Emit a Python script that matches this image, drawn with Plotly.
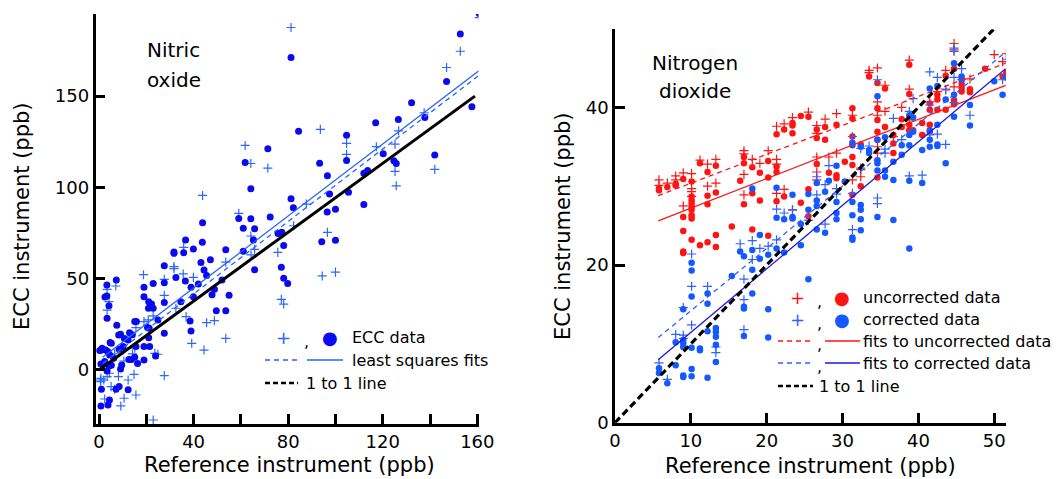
import plotly.graph_objects as go

# ---------------- Nitric oxide (left panel) ----------------
no_dot_x = [160.8, 152.8, 81.2, 147.0, 84.4, 132.2, 117.0, 126.6, 137.8, 157.7, 104.7, 71.4, 61.8, 104.7, 93.3,
            120.2, 124.7, 125.7, 142.0, 112.0, 113.6, 96.6, 64.2, 97.5, 112.0, 105.5, 81.2, 82.2, 96.5, 100.0,
            59.1, 64.2, 72.4, 61.0, 65.8, 61.0, 65.3, 53.6, 43.8, 43.7, 39.9, 36.6, 43.1, 47.1, 31.7, 31.7,
            35.8, 75.7, 77.3, 78.1, 94.2, 100.0, 77.1, 78.1, 79.8, 65.8, 27.6, 32.5, 36.5, 45.5, 44.4, 42.0,
            38.9, 39.9, 47.8, 48.8, 52.0, 19.0, 22.9, 27.6, 27.6, 19.0, 21.0, 22.2, 20.9, 22.9, 34.6, 38.5,
            38.9, 55.0, 49.6, 53.6, 7.5, 7.3, 3.3, 3.3, 2.5, 4.2, 3.4, 15.1, 15.8, 24.9, 20.5, 21.2, 27.6,
            21.0, 12.9, 14.1, 12.3, 10.7, 8.3, 9.1, 5.2, 4.7, 1.3, 1.0, 2.8, 0.3, 10.2, 8.5, 3.8, 19.0, 21.4,
            15.6, 15.1, 13.7, 12.6, 16.3, 19.0, 23.9, 0.8, 4.2, 5.2, 9.6, 3.4, 9.1, 8.5, 12.3, 1.0, 4.4, 3.8,
            0.8, 7.2, 4.5, 2.4, 6.2]
no_dot_y = [195.3, 184.0, 171.2, 158.0, 130.8, 146.4, 135.4, 137.2, 138.3, 144.2, 128.6, 121.2, 113.7, 114.8, 113.3,
            118.4, 114.6, 113.1, 117.7, 107.8, 109.3, 106.4, 99.3, 96.4, 90.7, 97.4, 93.8, 88.9, 86.5, 88.0,
            83.0, 82.8, 83.8, 77.6, 77.4, 65.1, 71.2, 65.9, 80.7, 69.9, 66.2, 71.2, 58.9, 60.4, 63.9, 64.6,
            64.2, 74.8, 75.4, 68.2, 70.3, 71.0, 56.2, 50.2, 47.3, 54.9, 57.1, 50.7, 48.7, 51.8, 54.7, 47.1,
            45.3, 40.1, 41.2, 44.2, 49.3, 45.3, 47.3, 47.8, 37.0, 40.1, 37.4, 36.1, 33.8, 33.8, 37.4, 26.8,
            21.4, 40.9, 32.5, 32.5, 24.5, 49.3, 46.5, 40.5, 40.0, 35.2, 28.3, 26.5, 26.5, 27.4, 23.2, 22.8, 20.1,
            17.7, 20.4, 19.3, 16.4, 17.3, 19.2, 19.5, 14.6, 15.0, 11.9, 11.0, 11.0, 10.6, 12.8, 11.3, 10.0, 12.8, 12.8,
            12.8, 6.9, 5.8, 5.8, 3.6, 5.5, 7.7, 3.3, 2.2, 2.6, 2.7, -0.5, 0.5, -9.1, -10.9, -10.6, -16.4, -19.2,
            -19.7, -10.6, 8.2, 4.6, 6.4]

no_cross_x = [81.2, 160.8, 152.8, 147.0, 93.6, 61.8, 64.2, 71.4, 104.7, 104.7, 125.2, 125.2, 125.7, 142.0, 117.3,
              137.5, 126.7, 43.8, 59.1, 64.2, 65.8, 64.3, 75.6, 82.3, 87.7, 96.6, 94.4, 100.0, 77.1, 78.1,
              53.6, 53.6, 44.4, 45.5, 48.8, 39.2, 39.9, 35.6, 35.8, 31.7, 31.7, 27.6, 27.6, 18.8, 36.8, 32.5,
              22.9, 19.0, 24.9, 22.9, 27.6, 15.6, 10.6, 12.3, 14.8, 8.2, 5.1, 6.6, 9.2, 2.4, 0.6, 0.8, 0.7,
              2.0, 3.4, 4.4, 6.6, 7.1, 3.4, 3.4, 4.2, 10.5, 14.1, 15.1, 15.6, 20.8, 10.2, 23.6]
no_cross_y = [187.6, 193.0, 174.6, 165.7, 131.8, 123.0, 113.1, 110.6, 124.1, 118.1, 123.7, 108.8, 100.9, 109.9, 122.3,
              140.9, 131.0, 95.6, 85.8, 73.4, 66.1, 63.0, 64.4, 79.0, 90.9, 75.4, 51.5, 53.6, 38.7, 36.1,
              59.1, 17.3, 10.9, 25.9, 27.0, 14.6, 50.7, 52.6, 67.2, 56.6, 55.5, 49.6, 40.9, 52.2, 29.2, 33.8,
              29.6, 26.5, 8.6, -27.4, -3.1, -13.7, -15.5, -5.5, -2.4, -3.6, -9.1, -10.6, -19.7, -15.9, -5.5, -4.6, -6.4,
              -5.5, -3.6, -1.8, 8.8, 46.0, 44.2, 32.8, 37.4, 4.9, 8.8, 11.9, 23.2, 27.4, 11.0, 9.1]

no_fit_x = [1.5, 160.8]
no_fit_solid_y = [7.0, 164.0]
no_fit_dash_y = [3.5, 161.5]
no_one_x = [0.0, 159.0]
no_one_y = [0.0, 150.0]

# ---------------- Nitrogen dioxide (right panel) ----------------
un_dot_x = [5.8, 5.8, 6.9, 8.0, 8.0, 9.0, 9.0, 9.0, 9.0, 9.0, 10.1, 10.1, 10.1, 10.1, 10.1, 10.1, 10.1, 10.1, 10.1,
            11.2, 11.2, 12.2, 12.2, 12.2, 12.2, 13.3, 13.3, 13.3, 13.3, 15.4, 16.5, 17.0, 17.0, 17.0, 18.1, 18.1,
            18.1, 19.1, 19.1, 20.2, 20.2, 20.2, 21.3, 21.3, 21.3, 21.3, 22.3, 22.3, 23.4, 23.4, 23.4, 24.5, 24.5,
            25.5, 25.5, 25.5, 26.6, 26.6, 26.6, 27.7, 27.7, 28.2, 29.2, 29.2, 29.2, 30.3, 31.3, 31.3, 31.3, 31.3,
            31.3, 31.3, 32.4, 32.4, 33.5, 34.6, 34.6, 34.6, 34.6, 34.6, 34.6, 35.6, 35.6, 36.7, 36.7, 36.7, 37.8,
            37.8, 38.8, 38.8, 38.8, 38.8, 39.3, 40.5, 40.5, 41.5, 41.5, 41.5, 41.5, 42.5, 42.5, 42.5, 43.6, 43.6,
            44.7, 44.7, 44.7, 45.7, 45.7, 45.7, 46.8, 46.8, 48.8, 51.1, 51.6]
un_dot_y = [29.7, 29.5, 29.9, 30.3, 30.1, 30.9, 26.1, 24.3, 21.7, 21.5, 30.6, 28.7, 28.2, 27.8, 27.4, 27.0, 26.3, 25.9, 23.2,
            32.9, 22.5, 31.8, 28.8, 27.7, 22.9, 32.6, 29.2, 23.8, 22.3, 24.9, 30.7, 33.7, 32.9, 27.7, 32.4, 29.1,
            24.5, 31.7, 28.2, 33.2, 31.1, 23.7, 36.6, 32.5, 31.8, 28.1, 37.2, 28.7, 38.0, 37.7, 36.7, 38.9, 27.9,
            38.8, 29.6, 26.2, 37.2, 36.1, 32.8, 37.5, 35.9, 31.7, 37.8, 31.4, 31.0, 33.1, 39.9, 38.6, 36.3, 33.7,
            32.7, 28.9, 35.3, 30.0, 43.9, 43.1, 39.9, 38.4, 36.9, 35.9, 31.1, 42.4, 37.5, 36.5, 35.4, 34.2, 38.5,
            37.5, 45.4, 41.7, 37.8, 37.1, 37.1, 38.0, 36.5, 40.5, 39.7, 37.8, 36.9, 41.6, 41.0, 39.7, 44.0, 39.7,
            44.9, 40.9, 40.4, 43.0, 42.5, 42.0, 42.3, 41.9, 44.9, 43.9, 44.4]

un_cross_x = [5.8, 5.8, 6.9, 8.0, 8.0, 9.0, 9.0, 10.1, 10.1, 10.1, 10.1, 11.2, 12.2, 12.2, 13.3, 13.3, 17.0, 17.0,
              17.0, 17.0, 18.1, 19.1, 20.2, 21.3, 21.3, 21.3, 21.3, 22.3, 22.3, 23.4, 23.4, 25.5, 26.6, 26.6,
              26.6, 26.6, 26.6, 27.7, 28.2, 29.2, 29.2, 31.3, 31.3, 32.4, 32.4, 33.5, 33.5, 34.6, 34.6, 34.6,
              34.6, 34.6, 35.6, 35.6, 36.7, 37.8, 38.8, 38.8, 38.8, 41.5, 42.5, 43.6, 43.6, 44.7, 44.7, 44.7,
              45.7, 46.8, 50.0, 51.1, 51.6]
un_cross_y = [30.8, 30.1, 30.4, 31.3, 30.8, 31.7, 27.5, 31.6, 29.7, 29.3, 28.7, 33.3, 32.8, 30.0, 33.4, 30.4, 34.5, 34.1,
              31.5, 28.9, 33.4, 32.9, 34.5, 37.6, 33.4, 32.8, 29.1, 37.9, 29.6, 38.7, 27.0, 39.4, 37.7, 36.7,
              33.7, 31.8, 30.8, 38.5, 33.7, 39.2, 34.2, 39.0, 30.8, 32.1, 31.2, 44.7, 44.4, 45.0, 40.7, 39.0,
              35.0, 34.2, 42.8, 39.5, 36.3, 40.0, 46.0, 42.3, 38.4, 40.7, 42.0, 44.7, 42.2, 48.1, 47.3, 42.6,
              43.5, 43.6, 46.7, 45.8, 46.8]

co_dot_x = [5.8, 5.8, 6.9, 8.0, 8.0, 9.0, 9.0, 9.0, 9.0, 9.0, 9.0, 10.1, 10.1, 10.1, 10.1, 10.1, 10.1, 11.2, 11.2,
            12.2, 12.2, 12.2, 12.2, 13.3, 13.3, 13.3, 13.3, 13.3, 15.4, 16.5, 17.0, 17.0, 17.0, 17.0, 18.1, 18.1,
            18.1, 18.1, 19.1, 19.1, 20.2, 20.2, 20.2, 21.3, 21.3, 21.3, 22.3, 22.3, 23.4, 23.4, 23.4, 24.5, 24.5,
            25.5, 25.5, 25.5, 26.6, 26.6, 26.6, 26.6, 27.7, 27.7, 28.2, 29.2, 29.2, 29.2, 29.2, 30.3, 31.3, 31.3,
            31.3, 31.3, 31.3, 31.3, 32.4, 32.4, 32.4, 32.4, 32.4, 33.5, 33.5, 34.6, 34.6, 34.6, 34.6, 34.6, 34.6,
            35.6, 35.6, 35.6, 36.7, 36.7, 36.7, 37.8, 37.8, 38.8, 38.8, 38.8, 38.8, 38.8, 39.3, 39.3, 40.5, 40.5,
            41.5, 41.5, 41.5, 41.5, 42.5, 42.5, 42.5, 42.5, 43.6, 43.6, 44.7, 44.7, 44.7, 45.7, 45.7, 46.8, 46.8,
            50.0, 51.1, 51.6]
co_dot_y = [6.9, 6.3, 5.0, 10.2, 7.3, 14.4, 10.5, 10.1, 9.6, 6.0, 5.8, 20.3, 19.3, 16.0, 9.5, 6.8, 5.9, 9.4, 9.2,
            16.4, 15.1, 11.6, 5.7, 12.0, 11.5, 10.9, 9.9, 7.7, 18.6, 21.7, 21.1, 14.7, 14.5, 11.0, 29.7, 21.9,
            19.4, 16.4, 23.8, 20.8, 21.3, 14.4, 10.8, 29.8, 26.0, 22.1, 25.8, 21.6, 28.9, 26.1, 25.9, 25.2, 22.5,
            29.0, 27.0, 18.2, 30.4, 28.2, 27.5, 24.5, 29.3, 24.1, 30.7, 32.6, 28.0, 26.6, 25.8, 30.6, 35.5, 35.2,
            28.0, 26.3, 23.5, 23.2, 35.0, 27.6, 27.0, 25.8, 24.4, 34.6, 34.2, 41.4, 35.9, 33.3, 32.9, 32.0, 26.1,
            36.2, 32.0, 31.2, 33.1, 30.8, 25.7, 35.2, 34.0, 39.0, 36.5, 35.2, 30.7, 22.1, 38.7, 36.9, 34.6, 30.4,
            42.4, 37.1, 35.9, 35.0, 42.7, 35.3, 35.1, 37.8, 41.0, 32.9, 45.6, 41.6, 38.8, 43.9, 43.5, 40.3, 37.7,
            43.3, 41.6, 43.8]

co_cross_x = [5.8, 6.9, 8.0, 9.0, 9.0, 9.0, 10.1, 10.1, 10.1, 12.2, 13.3, 13.3, 16.5, 17.0, 17.0, 17.0, 18.1, 18.1,
              19.1, 20.2, 21.3, 21.3, 22.3, 23.4, 25.5, 26.6, 26.6, 27.7, 27.7, 28.2, 29.2, 29.2, 31.3, 31.3,
              31.3, 32.4, 32.4, 33.5, 34.6, 34.6, 34.6, 35.6, 35.6, 36.7, 37.8, 38.8, 38.8, 39.3, 40.5, 41.5,
              41.5, 41.5, 42.5, 42.5, 43.6, 43.6, 44.7, 44.7, 44.7, 44.7, 45.7, 46.8, 51.1, 51.6]
co_cross_y = [7.6, 5.5, 11.2, 14.6, 11.1, 10.7, 21.4, 17.3, 12.4, 17.3, 8.9, 9.6, 22.7, 18.2, 15.6, 11.8, 23.1, 20.7,
              22.1, 22.4, 27.1, 23.2, 26.6, 27.0, 25.7, 31.2, 28.9, 30.2, 25.2, 32.6, 29.7, 29.0, 36.3, 29.1,
              24.5, 34.8, 32.3, 35.1, 43.5, 28.5, 27.8, 34.7, 34.2, 38.6, 35.9, 39.5, 31.3, 41.1, 31.4, 44.5,
              40.3, 36.5, 43.8, 36.6, 42.3, 35.3, 47.5, 47.1, 43.8, 40.6, 44.9, 39.0, 43.5, 46.1]

no2_fit_x = [5.7, 51.5]
un_fit_dash_y = [28.8, 45.6]
un_fit_solid_y = [25.6, 42.8]
co_fit_dash_y = [10.8, 47.0]
co_fit_solid_y = [8.0, 44.9]
no2_one_x = [0.0, 49.9]
no2_one_y = [0.0, 49.9]

# ---------------- colours ----------------
NO_DOT = "#0a0af0"
NO_CROSS = "#2b68ff"
NO_FIT = "#2563ff"
RED = "#ff1414"
BLUE_DOT = "#1458ff"
BLUE_DASH = "#2e62ff"
BLUE_SOLID = "#1a1ae0"
FONT = "DejaVu Sans"

fig = go.Figure()

def dots(x, y, color, size, xa, ya):
    fig.add_trace(go.Scatter(x=x, y=y, mode="markers", xaxis=xa, yaxis=ya, showlegend=False,
                             marker=dict(symbol="circle", size=size, color=color, line=dict(width=0))))

def crosses(x, y, color, size, xa, ya):
    fig.add_trace(go.Scatter(x=x, y=y, mode="markers", xaxis=xa, yaxis=ya, showlegend=False,
                             marker=dict(symbol="cross-thin", size=size, color=color,
                                         line=dict(width=1.2, color=color))))

def line(x, y, color, width, dash, xa, ya):
    fig.add_trace(go.Scatter(x=x, y=y, mode="lines", xaxis=xa, yaxis=ya, showlegend=False,
                             line=dict(color=color, width=width, dash=dash)))

# left
crosses(no_cross_x, no_cross_y, NO_CROSS, 6.5, "x", "y")
dots(no_dot_x, no_dot_y, NO_DOT, 7, "x", "y")
line(no_fit_x, no_fit_dash_y, NO_FIT, 1.3, "5px,4px", "x", "y")
line(no_fit_x, no_fit_solid_y, NO_FIT, 1.3, "solid", "x", "y")
line(no_one_x, no_one_y, "black", 3, "solid", "x", "y")

# right
crosses(un_cross_x, un_cross_y, RED, 6.5, "x2", "y2")
dots(un_dot_x, un_dot_y, RED, 6.5, "x2", "y2")
crosses(co_cross_x, co_cross_y, BLUE_DASH, 6.5, "x2", "y2")
dots(co_dot_x, co_dot_y, BLUE_DOT, 6.5, "x2", "y2")
line(no2_fit_x, un_fit_dash_y, RED, 1.3, "5px,4px", "x2", "y2")
line(no2_fit_x, un_fit_solid_y, RED, 1.3, "solid", "x2", "y2")
line(no2_fit_x, co_fit_dash_y, BLUE_DASH, 1.3, "5px,4px", "x2", "y2")
line(no2_fit_x, co_fit_solid_y, BLUE_SOLID, 1.3, "solid", "x2", "y2")
line(no2_one_x, no2_one_y, "black", 3.2, "7px,4px", "x2", "y2")

W, H = 1059, 479
def px(v):
    return v / W
def py(v):
    return 1 - v / H

axis_common = dict(showline=True, linecolor="black", linewidth=2.5, ticks="inside", ticklen=10,
                   tickwidth=2.5, tickcolor="black", showgrid=False, zeroline=False, automargin=False,
                   tickfont=dict(family=FONT, size=18, color="black"))

fig.update_layout(
    width=W, height=H, margin=dict(l=0, r=0, t=0, b=0, autoexpand=False),
    paper_bgcolor="white", plot_bgcolor="white",
    xaxis=dict(domain=[px(95.5), px(478.5)], range=[-1.5, 160.5], anchor="y",
               tickvals=[0, 20, 40, 60, 80, 100, 120, 140, 160],
               ticktext=["0", "", "40", "", "80", "", "120", "", "160"], **axis_common),
    yaxis=dict(domain=[py(424), py(14)], range=[-29.6, 195], anchor="x",
               tickvals=[0, 50, 100, 150], **axis_common),
    xaxis2=dict(domain=[px(615), px(1006)], range=[0, 51.55], anchor="y2",
                tickvals=[0, 10, 20, 30, 40, 50], **axis_common),
    yaxis2=dict(domain=[py(422.7), py(29.3)], range=[0, 49.9], anchor="x2",
                tickvals=[0, 20, 40], **axis_common),
)

ann = []
def text(x, y, s, size=16, color="black", xanchor="left", angle=0):
    ann.append(dict(x=px(x), y=py(y), xref="paper", yref="paper", text=s, showarrow=False,
                    xanchor=xanchor, yanchor="middle", textangle=angle, borderpad=0,
                    font=dict(family=FONT, size=size, color=color)))

# axis titles
text(289, 465, "Reference instrument (ppb)", 21, xanchor="center")
text(22, 216, "ECC instrument (ppb)", 21, xanchor="center", angle=-90)
text(810, 466, "Reference instrument (ppb)", 21, xanchor="center")
text(563, 226, "ECC instrument (ppb)", 21, xanchor="center", angle=-90)

# panel labels
text(146, 50, "Nitric", 20)
text(146, 80, "oxide", 20)
text(695, 63, "Nitrogen", 20, xanchor="center")
text(695, 91, "dioxide", 20, xanchor="center")

# left legend
text(283, 337, "+", 18, NO_CROSS, xanchor="center")
text(306, 341, ",", 16, xanchor="center")
text(330, 337, "●", 18, NO_DOT, xanchor="center")
text(351, 337, "ECC data", 16)
text(351, 360, "least squares fits", 16)
text(305, 383, "1 to 1 line", 16)

# right legend
text(797, 297, "+", 18, RED, xanchor="center")
text(819, 301, ",", 16, xanchor="center")
text(842, 297, "●", 18, RED, xanchor="center")
text(862, 297, "uncorrected data", 16)
text(797, 319, "+", 18, BLUE_DASH, xanchor="center")
text(819, 323, ",", 16, xanchor="center")
text(842, 319, "●", 18, BLUE_DOT, xanchor="center")
text(862, 319, "corrected data", 16)
text(819, 344, ",", 16, xanchor="center")
text(862, 341, "fits to uncorrected data", 16)
text(819, 366, ",", 16, xanchor="center")
text(862, 363, "fits to corrected data", 16)
text(818, 386, "1 to 1 line", 16)
fig.update_layout(annotations=ann)

shapes = []
def seg(x0, x1, y, color, width, dash):
    shapes.append(dict(type="line", xref="paper", yref="paper", x0=px(x0), x1=px(x1), y0=py(y), y1=py(y),
                       line=dict(color=color, width=width, dash=dash)))

seg(265, 298, 360, NO_FIT, 1.3, "5px,4px")
seg(307, 343, 360, NO_FIT, 1.3, "solid")
seg(265, 298, 383, "black", 2.5, "5px,3px")
seg(778, 813, 341, RED, 1.3, "5px,4px")
seg(825, 860, 341, RED, 1.3, "solid")
seg(778, 813, 363, BLUE_DASH, 1.3, "5px,4px")
seg(825, 860, 363, BLUE_SOLID, 1.3, "solid")
seg(778, 813, 386, "black", 2.5, "5px,3px")
fig.update_layout(shapes=shapes)

fig.write_html("out.html")
